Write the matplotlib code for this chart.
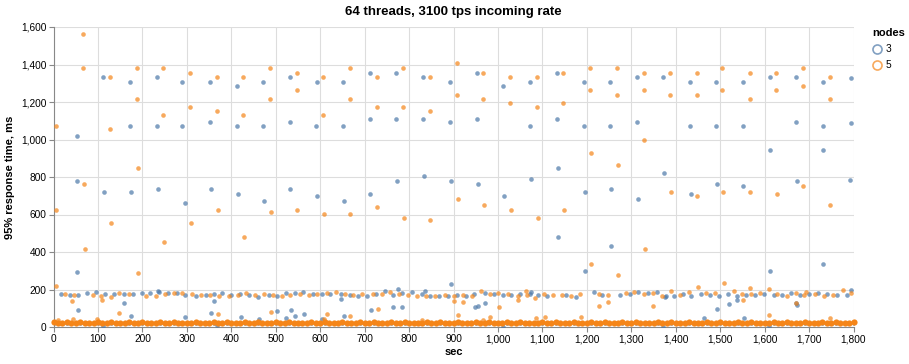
import matplotlib
matplotlib.use("Agg")
import matplotlib.pyplot as plt
from matplotlib.lines import Line2D
from matplotlib.ticker import FuncFormatter, MultipleLocator

plt.rcParams["font.family"] = ["Liberation Sans", "DejaVu Sans"]

BLUE = "#4c78a8"
ORANGE = "#f58518"

# nodes = 3 : spikes above the 200 ms band
n3_peak_sec = [52, 52, 52, 112, 114, 172, 172, 174, 232, 232, 234, 290, 290, 295,
               353, 352, 354, 413, 412, 414, 472, 472, 474, 532, 531, 533, 592, 591, 592,
               652, 651, 653, 711, 711, 713, 771, 771, 773, 831, 831, 833,
               892, 892, 894, 895, 952, 952, 954, 1012, 1014, 1072, 1072, 1074,
               1132, 1132, 1134, 1134, 1193, 1193, 1195, 1195, 1253, 1253, 1255, 1255,
               1313, 1313, 1314, 1372, 1374, 1432, 1432, 1434, 1491, 1491, 1492,
               1551, 1551, 1552, 1611, 1612, 1612, 1671, 1671, 1672,
               1731, 1731, 1732, 1732, 1794, 1794, 1793]
n3_peak_ms = [1017, 777, 295, 1331, 722, 1308, 1074, 722, 1331, 1074, 736, 1307, 1074, 661,
              1309, 1092, 736, 1285, 1074, 711, 1309, 1074, 674, 1332, 1092, 736, 1309, 1074, 697,
              1309, 1074, 674, 1355, 1111, 711, 1355, 1111, 777, 1332, 1111, 804,
              1309, 1092, 777, 229, 1355, 1111, 763, 1285, 697, 1309, 1074, 791,
              1355, 1111, 850, 478, 1309, 1074, 722, 300, 1309, 1074, 736, 430,
              1332, 1092, 684, 1332, 820, 1309, 1074, 711, 1309, 1074, 763,
              1309, 1074, 750, 1332, 946, 300, 1332, 1092, 777,
              1309, 1074, 946, 334, 1330, 1090, 785]

# nodes = 3 : the ~170 ms band and scattered low values
n3_low_sec = [16, 36, 56, 75, 95, 115, 135, 159, 179, 198, 218, 236, 238, 257, 277, 296, 321,
              342, 360, 379, 400, 420, 440, 460, 484, 503, 523, 543, 562, 583, 603, 623, 646,
              667, 685, 705, 725, 745, 764, 775, 784, 806, 828, 835, 846, 867, 888, 908, 928,
              947, 970, 990, 1011, 1030, 1050, 1071, 1074, 1090, 1110, 1154, 1175, 1215, 1235,
              1274, 1296, 1316, 1337, 1358, 1375, 1377, 1396, 1416, 1435, 1457, 1477, 1498,
              1518, 1537, 1559, 1579, 1599, 1620, 1640, 1660, 1680, 1700, 1720, 1740, 1763,
              1785, 1795,
              54, 159, 175, 112, 296, 360, 355, 421, 462, 503, 523, 534, 543, 563, 368, 646,
              604, 654, 714, 764, 784, 948, 955, 971, 1012, 1372, 1493, 1519, 1464, 1538,
              1554, 1610, 1673, 1671]
n3_low_ms = [178, 169, 171, 181, 185, 178, 178, 178, 174, 181, 180, 190, 185, 183, 183, 171, 167,
             172, 178, 180, 169, 178, 171, 162, 171, 167, 181, 181, 187, 174, 178, 178, 178,
             171, 164, 165, 174, 194, 172, 204, 180, 187, 178, 190, 167, 167, 167, 171, 167,
             178, 180, 178, 171, 171, 174, 174, 187, 171, 167, 171, 162, 185, 172,
             171, 178, 185, 181, 188, 162, 165, 167, 174, 164, 178, 171, 165,
             178, 164, 171, 171, 178, 171, 171, 180, 171, 174, 181, 174, 169,
             169, 200,
             89, 128, 57, 4, 52, 140, 75, 52, 41, 87, 46, 92, 57, 71, 12, 148,
             43, 59, 89, 105, 105, 105, 114, 128, 2, 2, 96, 124, 46, 142,
             46, 4, 117, 128]

# nodes = 5 : spikes
n5_peak_sec = [6, 6, 6, 67, 67, 69, 70, 127, 127, 129, 187, 187, 189, 190, 247, 247, 249,
               308, 308, 310, 368, 368, 370, 427, 427, 429, 487, 487, 489, 547, 547, 548,
               607, 607, 608, 667, 667, 668, 727, 727, 728, 786, 786, 788, 846, 846, 848,
               907, 907, 909, 967, 967, 969, 1027, 1027, 1029, 1087, 1087, 1089,
               1147, 1147, 1149, 1208, 1208, 1210, 1210, 1268, 1268, 1270, 1270,
               1328, 1328, 1329, 1330, 1387, 1387, 1389, 1447, 1447, 1448,
               1505, 1505, 1507, 1566, 1566, 1567, 1626, 1626, 1627, 1686, 1686, 1687,
               1746, 1746, 1747]
n5_peak_ms = [1074, 626, 220, 1564, 1380, 763, 414, 1331, 1054, 553, 1380, 1218, 850, 286, 1380, 1132, 455,
              1355, 1173, 553, 1332, 1154, 626, 1332, 1132, 478, 1380, 1218, 615, 1355, 1262, 626,
              1332, 1132, 604, 1380, 1218, 604, 1332, 1173, 638, 1380, 1173, 583, 1332, 1154, 572,
              1406, 1239, 684, 1355, 1218, 649, 1332, 1195, 626, 1332, 1173, 583,
              1355, 1195, 626, 1380, 1262, 930, 334, 1380, 1239, 864, 276,
              1355, 1262, 999, 414, 1355, 1239, 722, 1355, 1239, 697,
              1380, 1262, 722, 1355, 1218, 722, 1355, 1262, 711, 1380, 1284, 750,
              1332, 1218, 649]

# nodes = 5 : the ~170 ms band and scattered low values
n5_low_sec = [26, 46, 89, 107, 130, 148, 169, 208, 231, 251, 271, 290, 312, 331, 352, 372, 394,
              414, 434, 454, 474, 494, 513, 533, 555, 575, 593, 616, 635, 655, 674, 694, 719,
              738, 758, 778, 798, 818, 837, 858, 881, 901, 921, 941, 961, 981, 1001, 1022,
              1044, 1064, 1065, 1084, 1104, 1124, 1144, 1164, 1185, 1228, 1248, 1287, 1307,
              1328, 1348, 1369, 1389, 1410, 1429, 1449, 1468, 1488, 1508, 1531, 1550, 1568,
              1570, 1590, 1610, 1628, 1650, 1670, 1689, 1694, 1714, 1733, 1754, 1776, 1795,
              42, 109, 148, 98, 43, 9, 371, 489, 616, 668, 730, 608, 828, 901, 922, 910,
              1002, 981, 1105, 1085, 967, 1044, 1186, 1228, 1248, 1348, 1551, 1610, 1670, 1748]
n5_low_ms = [174, 171, 171, 167, 158, 183, 174, 165, 167, 174, 183, 180, 176, 171, 171, 167, 164,
             172, 181, 172, 174, 171, 167, 171, 178, 171, 174, 183, 187, 178, 172, 178, 178,
             174, 187, 174, 171, 167, 164, 164, 171, 164, 171, 167, 194, 174, 181, 174,
             164, 190, 171, 155, 174, 171, 171, 167, 178, 176, 171, 181, 187,
             174, 181, 164, 192, 171, 185, 215, 181, 183, 236, 194, 176, 208,
             174, 183, 201, 174, 165, 181, 171, 187, 174, 167, 169, 200, 182,
             137, 144, 76, 44, 41, 36, 68, 80, 71, 57, 94, 43, 39, 137, 133, 66,
             105, 53, 53, 46, 39, 144, 55, 112, 135, 112, 146, 64, 126, 48]

# the dense floor of samples, read every 10 s
base_sec = list(range(0, 1801, 10))
base3_ms = [22, 21, 23, 22, 20, 22, 23, 21, 22, 22, 21, 23, 22, 20, 22, 21, 23, 22, 22, 21,
            22, 23, 21, 22, 20, 22, 22, 23, 21, 22, 22, 21, 23, 22, 20, 22, 21, 22, 23, 22,
            21, 22, 22, 20, 23, 22, 21, 22, 22, 23, 21, 22, 20, 22, 22, 21, 23, 22, 22, 21,
            22, 23, 21, 22, 22, 20, 22, 23, 21, 22, 22, 21, 23, 22, 20, 22, 21, 22, 23, 22,
            21, 22, 22, 20, 23, 22, 21, 22, 22, 23, 21, 22, 20, 22, 22, 21, 23, 22, 22, 21,
            22, 23, 21, 22, 22, 20, 22, 23, 21, 22, 22, 21, 23, 22, 20, 22, 21, 22, 23, 22,
            21, 22, 22, 20, 23, 22, 21, 22, 22, 23, 21, 22, 20, 22, 22, 21, 23, 22, 22, 21,
            22, 23, 21, 22, 22, 20, 22, 23, 21, 22, 22, 21, 23, 22, 20, 22, 21, 22, 23, 22,
            21, 22, 22, 20, 23, 22, 21, 22, 22, 23, 21, 22, 20, 22, 22, 21, 23, 22, 22, 21,
            22]
base5_ms = [25, 24, 24, 25, 23, 24, 25, 24, 24, 23, 25, 24, 24, 25, 24, 23, 24, 25, 24, 24,
            25, 24, 23, 24, 25, 24, 24, 25, 24, 23, 24, 24, 25, 24, 24, 23, 25, 24, 24, 25,
            24, 24, 23, 25, 24, 24, 25, 24, 23, 24, 25, 24, 24, 25, 24, 23, 24, 24, 25, 24,
            24, 25, 23, 24, 24, 25, 24, 24, 23, 25, 24, 24, 25, 24, 23, 24, 25, 24, 24, 25,
            24, 23, 24, 24, 25, 24, 24, 25, 23, 24, 24, 25, 24, 24, 23, 25, 24, 24, 25, 24,
            23, 24, 25, 24, 24, 25, 24, 23, 24, 24, 25, 24, 24, 25, 23, 24, 24, 25, 24, 24,
            23, 25, 24, 24, 25, 24, 23, 24, 25, 24, 24, 25, 24, 23, 24, 24, 25, 24, 24, 25,
            23, 24, 24, 25, 24, 24, 23, 25, 24, 24, 25, 24, 23, 24, 25, 24, 24, 25, 24, 23,
            24, 24, 25, 24, 24, 25, 23, 24, 24, 25, 24, 24, 23, 25, 24, 24, 25, 24, 23, 24,
            25]

W, H = 909, 364
fig = plt.figure(figsize=(W / 100, H / 100), dpi=100)
ax = fig.add_axes([53.5 / W, 1 - 327 / H, 800 / W, 300 / H])

dot = 11
ax.scatter(base_sec, base3_ms, s=dot, color=BLUE, alpha=0.7, lw=0, zorder=3)
ax.scatter(n3_peak_sec + n3_low_sec, n3_peak_ms + n3_low_ms, s=dot, color=BLUE, alpha=0.7, lw=0, zorder=3)
ax.scatter(base_sec, base5_ms, s=20, color=ORANGE, alpha=1.0, lw=0, zorder=4, clip_on=False)
ax.scatter(n5_peak_sec + n5_low_sec, n5_peak_ms + n5_low_ms, s=dot, color=ORANGE, alpha=0.7, lw=0, zorder=4)

ax.set_xlim(0, 1800)
ax.set_ylim(0, 1600)
ax.xaxis.set_major_locator(MultipleLocator(100))
ax.yaxis.set_major_locator(MultipleLocator(200))
fmt = FuncFormatter(lambda v, p: f"{int(v):,}")
ax.xaxis.set_major_formatter(fmt)
ax.yaxis.set_major_formatter(fmt)
ax.grid(True, color="#dddddd", lw=0.8)
ax.set_axisbelow(True)
for side in ["top", "right"]:
    ax.spines[side].set_visible(False)
for side in ["left", "bottom"]:
    ax.spines[side].set_color("#888888")
    ax.spines[side].set_linewidth(0.8)
ax.tick_params(colors="#888888", length=3.6, width=0.8, labelsize=7.3, labelcolor="#000000", pad=1.5)

ax.set_xlabel("sec", fontsize=8, fontweight="bold", labelpad=2)
ax.set_ylabel("95% response time, ms", fontsize=8, fontweight="bold", labelpad=4)
ax.set_title("64 threads, 3100 tps incoming rate", fontsize=9.5, fontweight="bold", pad=9)

# legend
fig.text(872 / W, 1 - 33 / H, "nodes", fontsize=8, fontweight="bold", va="center", ha="left")
for i, (lab, col) in enumerate([("3", BLUE), ("5", ORANGE)]):
    yy = 1 - (49 + 16 * i) / H
    fig.add_artist(Line2D([877 / W], [yy], marker="o", ms=6.5, mfc="none", mec=col,
                          mew=1.2, alpha=0.7, transform=fig.transFigure))
    fig.text(886 / W, yy, lab, fontsize=7.3, va="center", ha="left")

fig.savefig("out.png", dpi=100)
